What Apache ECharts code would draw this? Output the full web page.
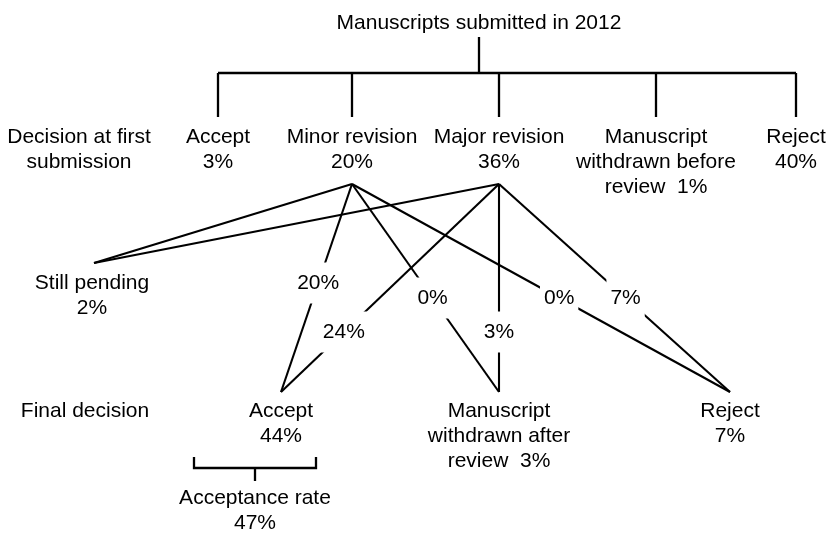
<!DOCTYPE html>
<html>
<head>
<meta charset="utf-8">
<script src="https://cdn.jsdelivr.net/npm/echarts@6/dist/echarts.min.js"></script>
<style>html,body{margin:0;padding:0;background:#fff}#chart{width:827px;height:534px}</style>
</head>
<body>
<div id="chart"></div>
<script>
// ---- data ----
const titleText = 'Manuscripts submitted in 2012';
const rowTitles = ['Decision at first\nsubmission', 'Final decision'];
const firstDecisionLabels = ['Accept', 'Minor revision', 'Major revision', 'Manuscript\nwithdrawn before\nreview', 'Reject'];
const firstDecisionPct = [3, 20, 36, 1, 40];
const finalDecisionLabels = ['Accept', 'Manuscript\nwithdrawn after\nreview', 'Reject'];
const finalDecisionPct = [44, 3, 7];
const pendingLabel = 'Still pending';
const pendingPct = 2;
const acceptanceLabel = 'Acceptance rate';
const acceptancePct = 47;
// flows from first decision (index into firstDecisionLabels) to targets: pending, then final decisions
const flowSourceIdx = [1, 2];
const minorRevisionFlowPct = [null, 20, 0, 0];
const majorRevisionFlowPct = [null, 24, 3, 7];

// ---- layout (positions in page pixels, mapped via hidden value axes) ----
const L = {
  titleX: 479, titleTop: 10.5,
  trunkTop: 37, barY: 73, dropBottom: 117,
  firstX: [218, 352, 499, 656, 796], firstTop: 124.5,
  rowTitleX: [79, 85], rowTitleTop: [124.5, 398.5],
  flowStartY: 184,
  pendingX: 92, pendingTop: 270.5, pendingEnd: [94, 263],
  finalX: [281, 499, 730], finalTop: 398.5, finalEndY: 392,
  labelT: [[null, 0.476, 0.548, 0.548], [null, 0.712, 0.712, 0.548]],
  bracket: { left: 194, right: 316, top: 457, bottom: 468, tick: 481 },
  accX: 255, accTop: 485.5
};

const fmtNode = (label, pct) => label + (label.endsWith('review') ? '  ' : '\n') + pct + '%';

// tree lines
const treeLines = [];
treeLines.push({ coords: [[L.titleX, L.trunkTop], [L.titleX, L.barY]] });
treeLines.push({ coords: [[L.firstX[0], L.barY], [L.firstX[L.firstX.length - 1], L.barY]] });
L.firstX.forEach(x => treeLines.push({ coords: [[x, L.barY], [x, L.dropBottom]] }));
const B = L.bracket;
treeLines.push({ coords: [[B.left, B.top], [B.left, B.bottom], [B.right, B.bottom], [B.right, B.top]] });
treeLines.push({ coords: [[L.accX, B.bottom], [L.accX, B.tick]] });

// flow lines + percentage labels
const flowLines = [];
const pctLabels = [];
const flowPcts = [minorRevisionFlowPct, majorRevisionFlowPct];
flowSourceIdx.forEach((si, k) => {
  const start = [L.firstX[si], L.flowStartY];
  const targets = [L.pendingEnd].concat(L.finalX.map(x => [x, L.finalEndY]));
  targets.forEach((end, j) => {
    flowLines.push({ coords: [start, end] });
    const p = flowPcts[k][j];
    if (p !== null) {
      const t = L.labelT[k][j];
      pctLabels.push({ value: [start[0] + (end[0] - start[0]) * t, start[1] + (end[1] - start[1]) * t], name: p + '%' });
    }
  });
});

// text nodes
const textNodes = [];
textNodes.push({ value: [L.titleX, L.titleTop], name: titleText });
rowTitles.forEach((t, i) => textNodes.push({ value: [L.rowTitleX[i], L.rowTitleTop[i]], name: t }));
firstDecisionLabels.forEach((lab, i) => textNodes.push({ value: [L.firstX[i], L.firstTop], name: fmtNode(lab, firstDecisionPct[i]) }));
finalDecisionLabels.forEach((lab, i) => textNodes.push({ value: [L.finalX[i], L.finalTop], name: fmtNode(lab, finalDecisionPct[i]) }));
textNodes.push({ value: [L.pendingX, L.pendingTop], name: fmtNode(pendingLabel, pendingPct) });
textNodes.push({ value: [L.accX, L.accTop], name: fmtNode(acceptanceLabel, acceptancePct) });

const font = { fontFamily: 'Liberation Sans, Arial, sans-serif', fontSize: 21, color: '#000', lineHeight: 25,
  opacity: 1, textBorderWidth: 0, textShadowBlur: 0 };

const chart = echarts.init(document.getElementById('chart'), null, { renderer: 'canvas' });
chart.setOption({
  animation: false,
  backgroundColor: '#fff',
  grid: { left: 0, right: 0, top: 0, bottom: 0 },
  xAxis: { type: 'value', min: 0, max: 827, show: false },
  yAxis: { type: 'value', min: 0, max: 534, inverse: true, show: false },
  series: [
    {
      type: 'lines', coordinateSystem: 'cartesian2d', polyline: true, silent: true, z: 1,
      lineStyle: { color: '#000', width: 2.3, opacity: 1, cap: 'butt', join: 'miter' },
      data: treeLines
    },
    {
      type: 'lines', coordinateSystem: 'cartesian2d', silent: true, z: 1,
      lineStyle: { color: '#000', width: 2.1, opacity: 1 },
      data: flowLines
    },
    {
      type: 'scatter', silent: true, z: 3, symbolSize: 0,
      itemStyle: { opacity: 1, color: '#fff' },
      emphasis: { disabled: true },
      data: pctLabels,
      label: Object.assign({ show: true, position: 'inside', align: 'center', verticalAlign: 'middle',
        formatter: p => p.name, backgroundColor: '#fff', padding: [8, 4] }, font)
    },
    {
      type: 'scatter', silent: true, z: 3, symbolSize: 0,
      itemStyle: { opacity: 1, color: '#fff' },
      emphasis: { disabled: true },
      data: textNodes,
      label: Object.assign({ show: true, position: 'inside', align: 'center', verticalAlign: 'top',
        formatter: p => p.name }, font)
    }
  ]
});
</script>
</body>
</html>
